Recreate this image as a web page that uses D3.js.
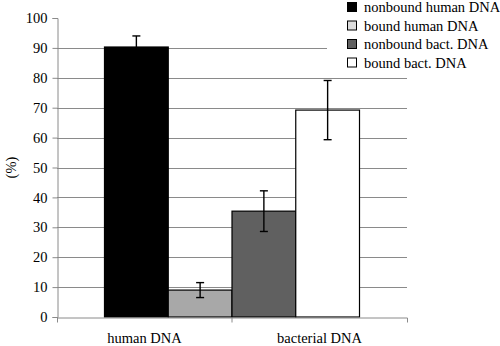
<!DOCTYPE html>
<html>
<head>
<meta charset="utf-8">
<script src="https://cdn.jsdelivr.net/npm/d3@7"></script>
<style>
  body { margin: 0; background: #fff; }
  text { font-family: "Liberation Serif", "Times New Roman", serif; fill: #000; }
</style>
</head>
<body>
<div id="chart"></div>
<script>
const categories = ["human DNA", "bacterial DNA"];
const series = ["nonbound human DNA", "bound human DNA", "nonbound bact. DNA", "bound bact. DNA"];
const values = [90.3, 9.0, 35.4, 69.2];
const errors = [3.7, 2.5, 6.8, 9.9];
const barColors = ["#000000", "#a8a8a8", "#606060", "#ffffff"];
const swatchColors = ["#000000", "#dcdcdc", "#606060", "#ffffff"];
const yTicks = [0, 10, 20, 30, 40, 50, 60, 70, 80, 90, 100];

const width = 500, height = 346;
const plotLeft = 57, plotRight = 407, plotTop = 18, plotBottom = 317;

const svg = d3.select("#chart").append("svg")
  .attr("width", width).attr("height", height);

const y = d3.scaleLinear().domain([0, 100]).range([plotBottom, plotTop]);
const xCat = d3.scaleBand().domain(categories).range([plotLeft, plotRight]);
const xBar = d3.scaleBand().domain(series).range([plotLeft, plotRight])
  .paddingInner(0).paddingOuter(0.745);

// gridlines
svg.append("g").selectAll("line")
  .data(yTicks.filter(d => d > 0 && d < 100))
  .join("line")
  .attr("x1", plotLeft).attr("x2", plotRight)
  .attr("y1", d => Math.round(y(d)) + 0.5).attr("y2", d => Math.round(y(d)) + 0.5)
  .attr("stroke", "#8a8a8a").attr("stroke-width", 1);

// bars
svg.append("g").selectAll("rect")
  .data(series)
  .join("rect")
  .attr("x", d => xBar(d))
  .attr("width", xBar.bandwidth())
  .attr("y", (d, i) => y(values[i]))
  .attr("height", (d, i) => y(0) - y(values[i]))
  .attr("fill", (d, i) => barColors[i])
  .attr("stroke", "#000").attr("stroke-width", 1.2);

// error bars
const eb = svg.append("g").attr("stroke", "#000").attr("stroke-width", 1.4);
series.forEach((s, i) => {
  const cx = xBar(s) + xBar.bandwidth() / 2;
  const hi = y(values[i] + errors[i]), lo = y(values[i] - errors[i]);
  eb.append("line").attr("x1", cx).attr("x2", cx).attr("y1", hi).attr("y2", lo);
  eb.append("line").attr("x1", cx - 4).attr("x2", cx + 4).attr("y1", hi).attr("y2", hi);
  eb.append("line").attr("x1", cx - 4).attr("x2", cx + 4).attr("y1", lo).attr("y2", lo);
});

// y axis
const yAxis = svg.append("g")
  .attr("transform", `translate(${plotLeft + 0.5},0)`)
  .call(d3.axisLeft(y).tickValues(yTicks).tickSize(5).tickPadding(5));
yAxis.select(".domain").attr("stroke", "#8a8a8a");
yAxis.selectAll(".tick line").attr("stroke", "#8a8a8a");
yAxis.selectAll(".tick text")
  .style("font-family", '"Liberation Serif", serif').style("font-size", "14.5px").attr("fill", "#000");

// x axis
const xAxis = svg.append("g")
  .attr("transform", `translate(0,${plotBottom + 0.5})`)
  .call(d3.axisBottom(xCat).tickSize(0).tickSizeOuter(5).tickPadding(15));
xAxis.select(".domain").attr("stroke", "#8a8a8a");
xAxis.selectAll(".tick text")
  .style("font-family", '"Liberation Serif", serif').style("font-size", "14.5px").attr("fill", "#000");
xAxis.append("line")
  .attr("x1", xCat("bacterial DNA")).attr("x2", xCat("bacterial DNA"))
  .attr("y1", 0).attr("y2", 5).attr("stroke", "#8a8a8a");

// y label
svg.append("text")
  .attr("transform", `translate(16,${(plotTop + plotBottom) / 2}) rotate(-90)`)
  .attr("text-anchor", "middle")
  .style("font-size", "14.5px")
  .text("(%)");

// legend
const legend = svg.append("g");
legend.append("rect").attr("x", 327).attr("y", 0).attr("width", 173).attr("height", 72).attr("fill", "#fff");
series.forEach((s, i) => {
  const cy = 7 + i * 18.5;
  legend.append("rect")
    .attr("x", 347.5).attr("y", cy - 4.5).attr("width", 9).attr("height", 9)
    .attr("fill", swatchColors[i]).attr("stroke", "#000").attr("stroke-width", 1);
  legend.append("text")
    .attr("x", 364).attr("y", cy + 5)
    .style("font-size", "14.5px")
    .text(s);
});
</script>
</body>
</html>
